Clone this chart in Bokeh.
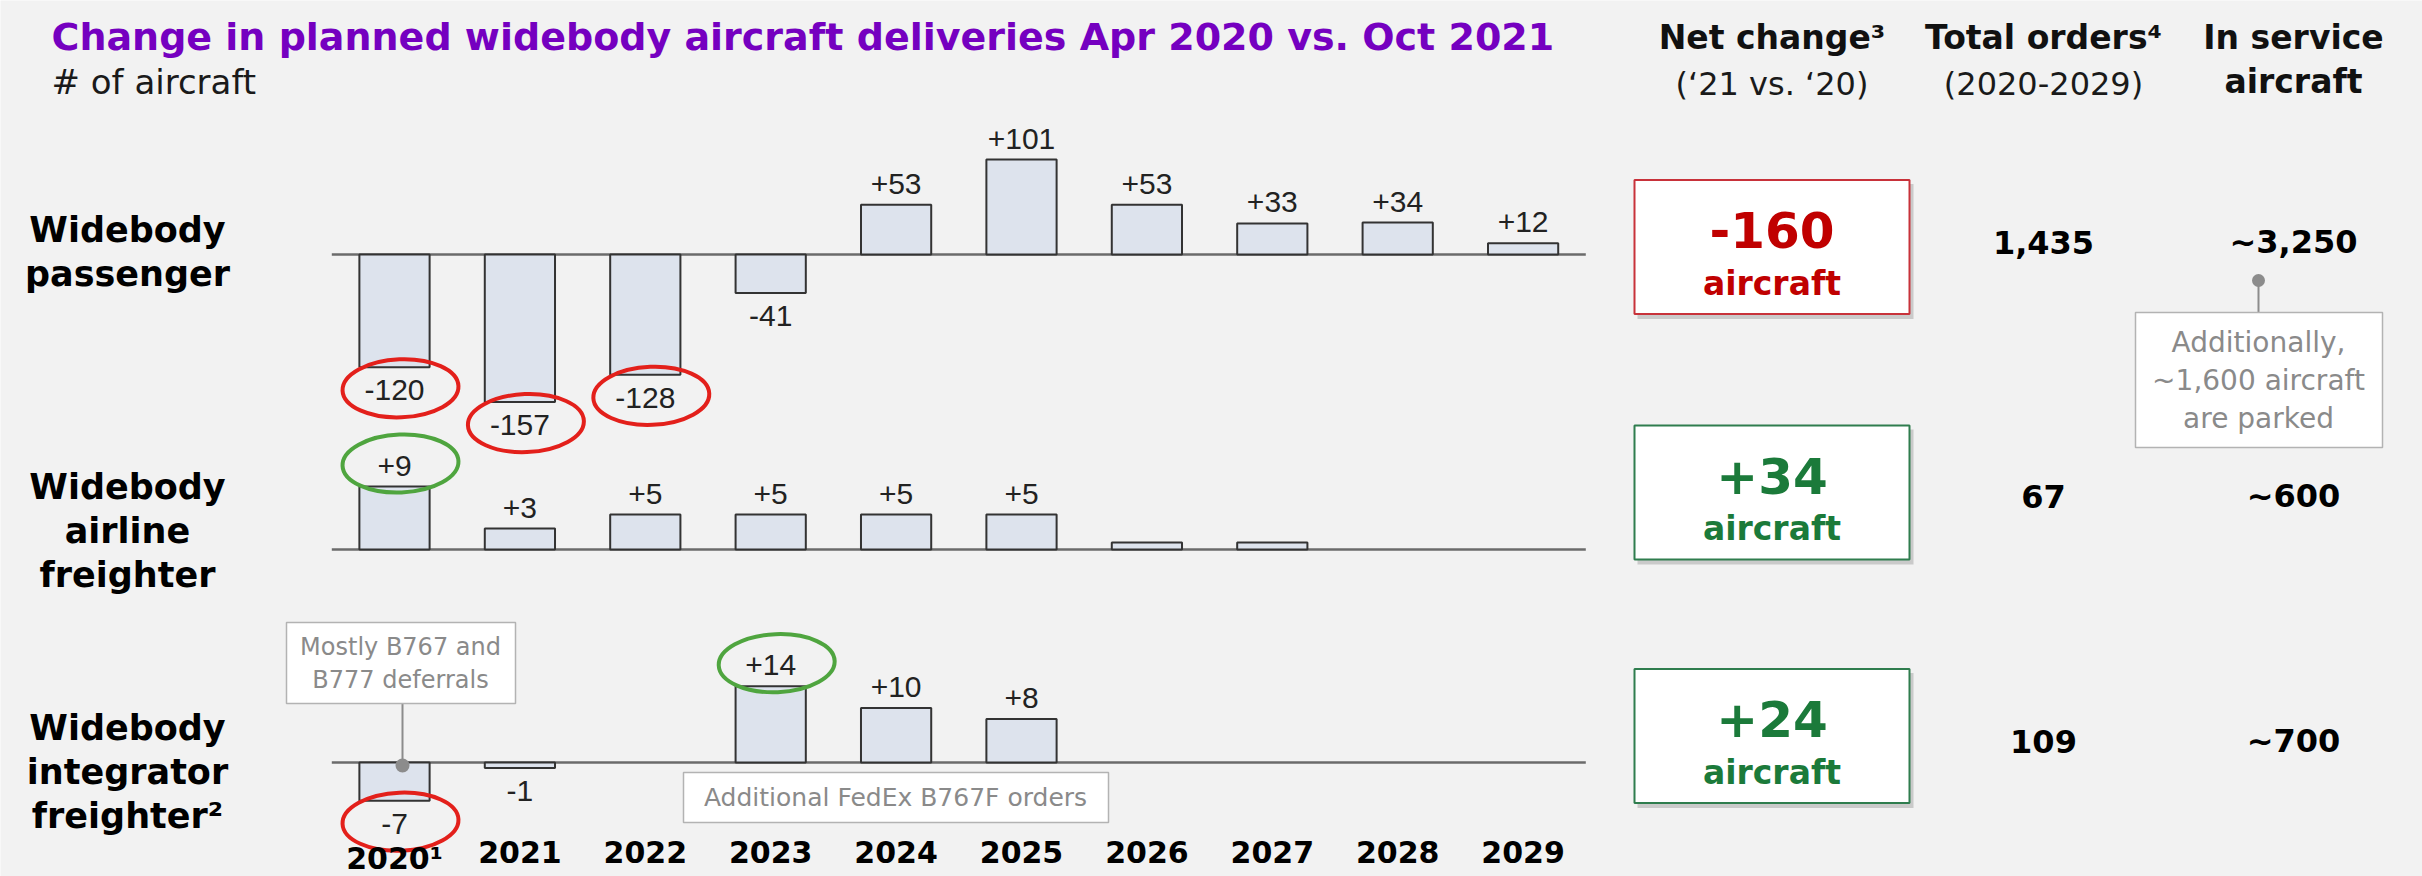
from bokeh.plotting import figure
from bokeh.models import Range1d, ColumnDataSource
from bokeh.core.properties import value
from bokeh.embed import file_html
from bokeh.resources import INLINE

# ---------------- data ----------------
years = [2020, 2021, 2022, 2023, 2024, 2025, 2026, 2027, 2028, 2029]
year_labels = ["2020¹", "2021", "2022", "2023", "2024", "2025", "2026", "2027", "2028", "2029"]

passenger = [-120, -157, -128, -41, 53, 101, 53, 33, 34, 12]
airline_freighter = [9, 3, 5, 5, 5, 5, 1, 1, 0, 0]
integrator_freighter = [-7, -1, 0, 14, 10, 8, 0, 0, 0, 0]

passenger_labels = ["-120", "-157", "-128", "-41", "+53", "+101", "+53", "+33", "+34", "+12"]
airline_labels = ["+9", "+3", "+5", "+5", "+5", "+5", "", "", "", ""]
integrator_labels = ["-7", "-1", "", "+14", "+10", "+8", "", "", "", ""]

row_names = [["Widebody", "passenger"],
             ["Widebody", "airline", "freighter"],
             ["Widebody", "integrator", "freighter²"]]

net_change = ["-160", "+34", "+24"]
total_orders = ["1,435", "67", "109"]
in_service = ["~3,250", "~600", "~700"]

# highlighted values: (row, year index, colour)
highlights = [(0, 0, "red"), (0, 1, "red"), (0, 2, "red"), (1, 0, "green"),
              (2, 0, "red"), (2, 3, "green")]

title = "Change in planned widebody aircraft deliveries Apr 2020 vs. Oct 2021"
subtitle = "# of aircraft"

# ---------------- layout / style ----------------
W, H = 2422, 876
BG = "#f2f2f2"
PURPLE = "#7500c0"
RED = "#c00000"
GREEN = "#1b7a3a"
CIRC = {"red": "#e3201b", "green": "#4fa53f"}
GREY_TXT = "#8a8a8a"

PITCH = 125.4
C0 = 394
ROW_ZERO = [254, 549, 762]
ROW_SCALE = [0.94, 7.0, 5.45]
ROW_LABEL_MID = [264, 543, 784]
LINE = 44
RIGHT_BASE = [253, 507, 752]
BOX_CENTER = [246.5, 492, 735.5]
BOX_L, BOX_R, BOX_H = 1634, 1909, 134
NET_X, TOT_X, SRV_X = 1771.5, 2043, 2293

p = figure(width=W, height=H, x_range=Range1d(0, W), y_range=Range1d(H, 0),
           output_backend="svg", toolbar_location=None, min_border=0,
           x_axis_location=None, y_axis_location=None)
p.xgrid.visible = False
p.ygrid.visible = False
p.outline_line_color = None
p.background_fill_color = BG
p.border_fill_color = BG

xs = years[0] - C0 / PITCH
p.extra_x_ranges = {"yr": Range1d(xs, xs + W / PITCH)}
p.extra_y_ranges = {f"r{r}": Range1d((ROW_ZERO[r] - H) / ROW_SCALE[r],
                                     ROW_ZERO[r] / ROW_SCALE[r]) for r in range(3)}


def put(x, base, s, size, font="DejaVu Sans", bold=False, color="#111111", align="center"):
    # base = alphabetic baseline in pixels; drawn with a middle anchor
    p.text(x=[x], y=[base - 0.35 * size], text=[s], text_font=value(font),
           text_font_size=value(f"{size}px"),
           text_font_style="bold" if bold else "normal",
           text_color=color, text_align=align, text_baseline="middle")


def box(l, r, t, b, line_color, fill="white", lw=1.5, shadow=False):
    if shadow:
        p.quad(left=[l + 3], right=[r + 4], top=[t + 4], bottom=[b + 5],
               fill_color="#9a9a9a", fill_alpha=0.45, line_color=None)
    p.quad(left=[l], right=[r], top=[t], bottom=[b],
           fill_color=fill, line_color=line_color, line_width=lw)


# ---------------- titles ----------------
put(51, 50, title, 38, bold=True, color=PURPLE, align="left")
put(51, 93, subtitle, 34, color="#1a1a1a", align="left")

# column headers
put(NET_X, 49, "Net change³", 33, bold=True)
put(NET_X, 95, "(‘21 vs. ‘20)", 32, color="#1a1a1a")
put(TOT_X, 49, "Total orders⁴", 33, bold=True)
put(TOT_X, 95, "(2020-2029)", 32, color="#1a1a1a")
put(SRV_X, 49, "In service", 33, bold=True)
put(SRV_X, 93, "aircraft", 33, bold=True)

# ---------------- rows ----------------
rows = [(passenger, passenger_labels), (airline_freighter, airline_labels),
        (integrator_freighter, integrator_labels)]

for r, (vals, labs) in enumerate(rows):
    yr = f"r{r}"
    n = len(row_names[r])
    for i, line in enumerate(row_names[r]):
        put(127, ROW_LABEL_MID[r] + (i - (n - 1) / 2) * LINE, line, 35, bold=True, color="#000000")
    p.segment(x0=[years[0] - 0.5], x1=[years[-1] + 0.5], y0=[0], y1=[0],
              x_range_name="yr", y_range_name=yr, line_color="#6b6b6b", line_width=2.5)
    keep = [i for i, v in enumerate(vals) if v != 0]
    src = ColumnDataSource(dict(x=[years[i] for i in keep], top=[vals[i] for i in keep]))
    p.vbar(x="x", top="top", bottom=0, width=0.56, source=src, x_range_name="yr",
           y_range_name=yr, fill_color="#dde3ed", line_color="#333333", line_width=2)
    li = [i for i, s in enumerate(labs) if s]
    lsrc = ColumnDataSource(dict(x=[years[i] for i in li], y=[vals[i] for i in li],
                                 t=[labs[i] for i in li],
                                 off=[-21 if vals[i] > 0 else 23 for i in li]))
    p.text(x="x", y="y", text="t", y_offset="off", source=lsrc, x_range_name="yr",
           y_range_name=yr, text_font=value("Liberation Sans"), text_font_size=value("30px"),
           text_color="#222222", text_align="center", text_baseline="middle")

    c = BOX_CENTER[r]
    col = RED if net_change[r].startswith("-") else GREEN
    border = "#c8323a" if col == RED else "#2f7d4e"
    box(BOX_L, BOX_R, c - BOX_H / 2, c + BOX_H / 2, border, shadow=True, lw=2)
    put(NET_X, c + 0.5, net_change[r], 50, bold=True, color=col)
    put(NET_X, c + 48, "aircraft", 33, bold=True, color=col)
    put(TOT_X, RIGHT_BASE[r], total_orders[r], 32, bold=True, color="#000000")
    put(SRV_X, RIGHT_BASE[r], in_service[r], 32, bold=True, color="#000000")

# ---------------- highlight circles ----------------
for r, i, c in highlights:
    v = rows[r][0][i]
    s = ROW_SCALE[r]
    yc = v + 23 / s if v > 0 else v - 21 / s
    p.ellipse(x=[years[i] + 6 / PITCH], y=[yc], width=[116], height=[58], angle=[0.04],
              width_units="screen", height_units="screen", x_range_name="yr",
              y_range_name=f"r{r}", fill_color=None, line_color=CIRC[c], line_width=4)

# ---------------- year labels ----------------
p.text(x=years, y=[840] * len(years), text=year_labels, x_range_name="yr",
       text_font=value("DejaVu Sans"), text_font_size=value("30px"), text_font_style="bold",
       text_color="#000000", text_align="center", text_baseline="top")

# ---------------- callouts ----------------
p.segment(x0=[402], x1=[402], y0=[703], y1=[765], line_color="#8c8c8c", line_width=2)
p.scatter(x=[402], y=[765], size=14, marker="circle", fill_color="#8c8c8c", line_color=None)
box(286, 515, 622, 703, "#b3b3b3")
put(400, 655, "Mostly B767 and", 24, color=GREY_TXT)
put(400, 688, "B777 deferrals", 24, color=GREY_TXT)

box(683, 1108, 772, 822, "#b3b3b3")
put(895, 806, "Additional FedEx B767F orders", 25, color=GREY_TXT)

p.segment(x0=[2258], x1=[2258], y0=[280], y1=[312], line_color="#8c8c8c", line_width=2)
p.scatter(x=[2258], y=[280], size=13, marker="circle", fill_color="#8c8c8c", line_color=None)
box(2135, 2382, 312, 447, "#b3b3b3")
put(2258, 352, "Additionally,", 28, color=GREY_TXT)
put(2258, 390, "~1,600 aircraft", 28, color=GREY_TXT)
put(2258, 428, "are parked", 28, color=GREY_TXT)

open("out.html", "w").write(file_html(p, INLINE))
